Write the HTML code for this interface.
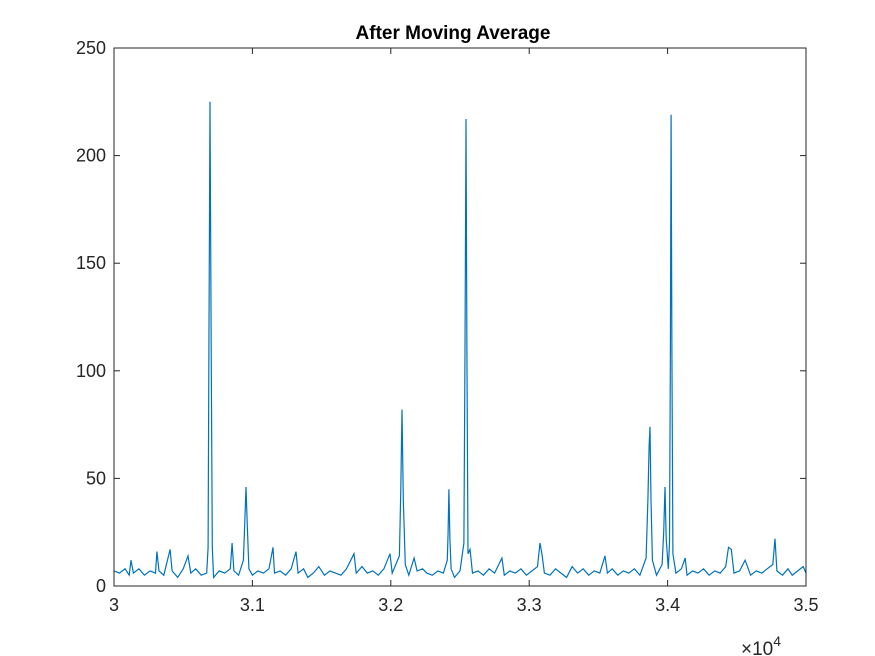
<!DOCTYPE html>
<html><head><meta charset="utf-8"><style>
body{margin:0;background:#fff;}
svg{display:block;font-family:"Liberation Sans",Arial,sans-serif;}
</style></head><body>
<svg id="chart" width="875" height="656">
<rect x="0" y="0" width="875" height="656" fill="#fff"/>
<text x="453" y="39" text-anchor="middle" font-size="19" font-weight="bold" fill="#000">After Moving Average</text>
<g id="grid"></g>
<g id="series"></g>
<rect x="114" y="48" width="692" height="538" fill="none" stroke="#262626" stroke-width="1"/>
<text x="741" y="655" font-size="19" fill="#262626">×10<tspan dy="-9" font-size="14">4</tspan></text>
</svg>
<script>
const xTicks=[30000,31000,32000,33000,34000,35000];
const xTickLabels=["3","3.1","3.2","3.3","3.4","3.5"];
const yTicks=[0,50,100,150,200,250];
const yTickLabels=["0","50","100","150","200","250"];
const xs=[30000,30040,30080,30110,30123,30140,30180,30220,30260,30300,30310,30325,30360,30405,30420,30460,30500,30535,30555,30590,30630,30670,30680,30686,30694,30702,30710,30720,30760,30800,30840,30853,30866,30900,30935,30945,30954,30963,30975,31000,31040,31080,31120,31149,31160,31200,31240,31280,31315,31330,31370,31400,31440,31480,31520,31560,31600,31640,31680,31734,31750,31792,31830,31870,31910,31950,31994,32010,32062,32072,32081,32090,32105,32130,32168,32190,32230,32260,32300,32340,32380,32408,32414,32420,32427,32436,32460,32500,32528,32536,32543,32550,32558,32572,32590,32630,32670,32710,32750,32803,32820,32860,32900,32940,32980,33020,33060,33078,33092,33110,33150,33190,33230,33270,33310,33350,33390,33430,33470,33510,33548,33565,33600,33640,33680,33720,33760,33800,33845,33858,33866,33873,33880,33890,33920,33960,33972,33981,33990,34005,34014,34020,34025,34031,34038,34060,34100,34127,34140,34180,34220,34260,34300,34340,34380,34420,34440,34460,34480,34520,34560,34600,34640,34680,34720,34760,34776,34790,34830,34870,34900,34940,34980,35000];
const ys=[7,6,8,5,12,6,8,5,7,6,16,7,5,17,7,4,8,14,6,8,5,6,18,110,225,110,18,4,7,6,8,20,7,5,12,30,46,28,8,5,7,6,8,18,6,7,5,8,16,6,8,4,6,9,5,7,6,5,8,15,6,9,6,7,5,8,15,6,14,45,82,40,10,5,13,7,8,6,5,7,6,12,25,45,22,8,4,7,20,110,217,110,15,17,6,7,5,8,6,13,5,7,6,8,5,7,9,20,15,6,5,8,6,4,9,6,8,5,7,6,14,6,8,5,7,6,8,5,13,40,65,74,40,12,5,10,25,46,22,8,20,110,219,110,15,6,8,13,5,7,6,8,5,7,6,9,18,17,6,7,12,5,7,6,8,10,22,7,5,8,5,7,9,6];
const L=114,R=806,T=48,B=586;
const sx=v=>L+(v-30000)/5000*(R-L);
const sy=v=>B-v/250*(B-T);
const NS="http://www.w3.org/2000/svg";
const g=document.getElementById('grid');
xTicks.forEach((t,i)=>{
  const x=sx(t);
  const l1=document.createElementNS(NS,'line');
  l1.setAttribute('x1',x);l1.setAttribute('x2',x);l1.setAttribute('y1',B);l1.setAttribute('y2',B-6);
  l1.setAttribute('stroke','#262626');
  
  
  g.appendChild(l1);
  const l2=document.createElementNS(NS,'line');
  l2.setAttribute('x1',x);l2.setAttribute('x2',x);l2.setAttribute('y1',T);l2.setAttribute('y2',T+6);
  l2.setAttribute('stroke','#262626');
  
  
  g.appendChild(l2);
  const tx=document.createElementNS(NS,'text');
  tx.setAttribute('x',x);tx.setAttribute('y',B+25);tx.setAttribute('text-anchor','middle');
  tx.setAttribute('font-size','18');tx.setAttribute('fill','#262626');
  tx.textContent=xTickLabels[i];
  
  
  g.appendChild(tx);
});
yTicks.forEach((t,i)=>{
  const y=sy(t);
  const l1=document.createElementNS(NS,'line');
  l1.setAttribute('x1',L);l1.setAttribute('x2',L+6);l1.setAttribute('y1',y);l1.setAttribute('y2',y);
  l1.setAttribute('stroke','#262626');
  
  
  g.appendChild(l1);
  const l2=document.createElementNS(NS,'line');
  l2.setAttribute('x1',R);l2.setAttribute('x2',R-6);l2.setAttribute('y1',y);l2.setAttribute('y2',y);
  l2.setAttribute('stroke','#262626');
  
  
  g.appendChild(l2);
  const tx=document.createElementNS(NS,'text');
  tx.setAttribute('x',L-8);tx.setAttribute('y',y+6);tx.setAttribute('text-anchor','end');
  tx.setAttribute('font-size','18');tx.setAttribute('fill','#262626');
  tx.textContent=yTickLabels[i];
  
  
  g.appendChild(tx);
});
const p=document.createElementNS(NS,'polyline');
p.setAttribute('points',xs.map((x,i)=>sx(x).toFixed(1)+','+sy(ys[i]).toFixed(1)).join(' '));
p.setAttribute('fill','none');p.setAttribute('stroke','#0072BD');p.setAttribute('stroke-width','1.2');


document.getElementById('series').appendChild(p);
</script>
</body></html>
